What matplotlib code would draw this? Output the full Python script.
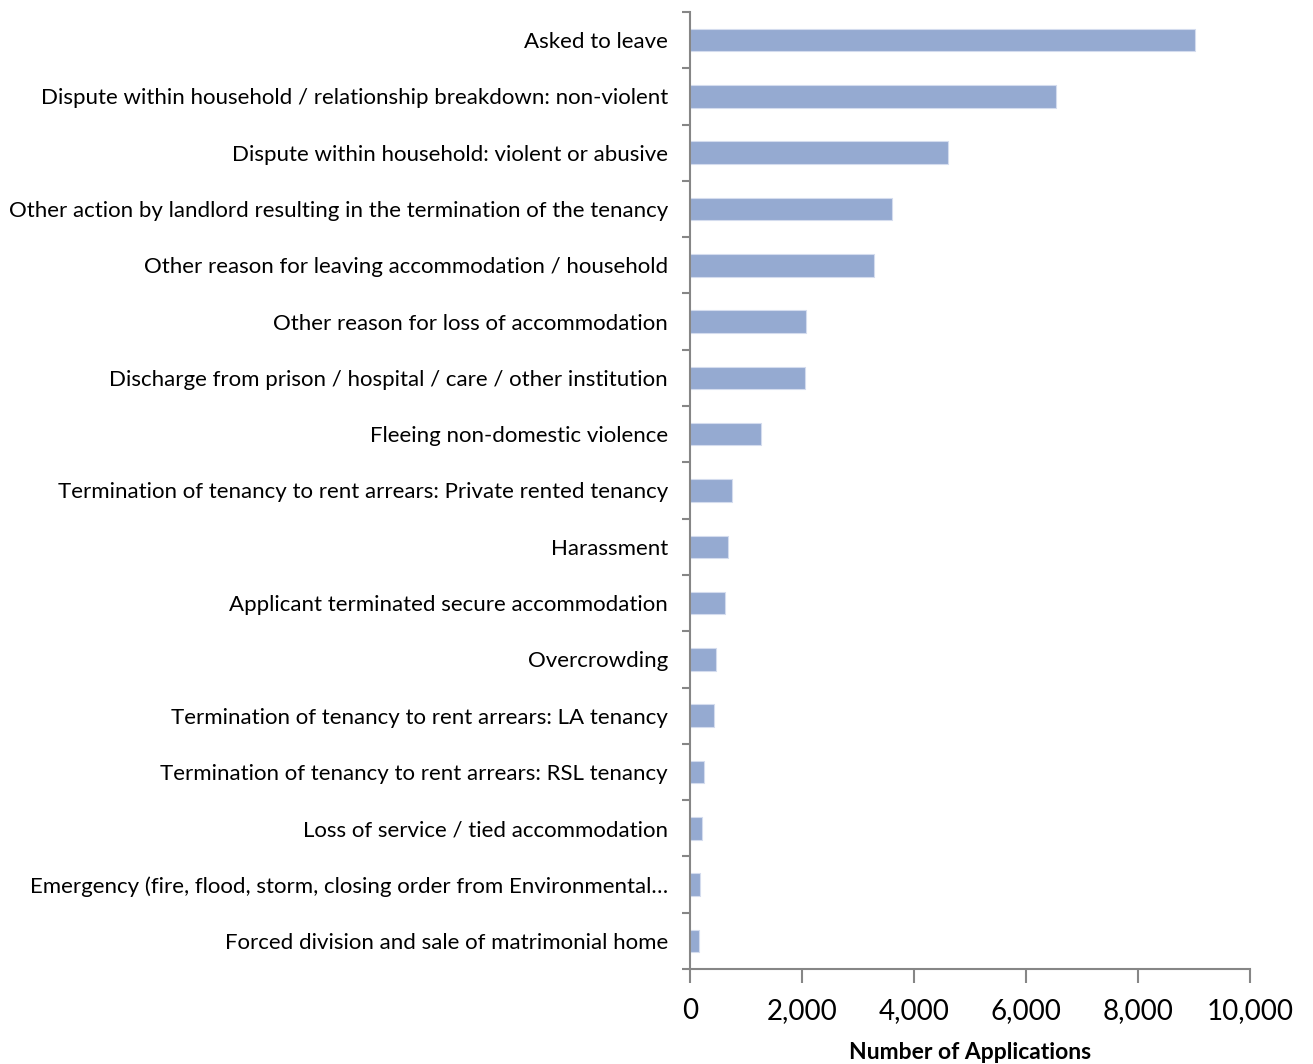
#!/usr/bin/env python3
"""Reasons for homelessness applications - horizontal bar chart."""

import matplotlib
matplotlib.use("Agg")
import matplotlib.pyplot as plt
from matplotlib.ticker import FuncFormatter

REASONS = [
    "Asked to leave",
    "Dispute within household / relationship breakdown: non-violent",
    "Dispute within household: violent or abusive",
    "Other action by landlord resulting in the termination of the tenancy",
    "Other reason for leaving accommodation / household",
    "Other reason for loss of accommodation",
    "Discharge from prison / hospital / care / other institution",
    "Fleeing non-domestic violence",
    "Termination of tenancy to rent arrears: Private rented tenancy",
    "Harassment",
    "Applicant terminated secure accommodation",
    "Overcrowding",
    "Termination of tenancy to rent arrears: LA tenancy",
    "Termination of tenancy to rent arrears: RSL tenancy",
    "Loss of service / tied accommodation",
    "Emergency (fire, flood, storm, closing order from Environmental\u2026",
    "Forced division and sale of matrimonial home",
]
APPLICATIONS = [9020, 6530, 4610, 3600, 3290, 2070, 2050, 1270,
                750, 676, 629, 463, 421, 249, 219, 184, 166]
X_TICKS = [0, 2000, 4000, 6000, 8000, 10000]

BAR_COLOR = "#95AAD1"
AXIS_COLOR = "#868686"

plt.rcParams["font.family"] = ["Lato", "DejaVu Sans"]

fig = plt.figure(figsize=(13.13, 10.64), dpi=100)
ax = fig.add_axes([690 / 1313, 1 - 969 / 1064, 560 / 1313, 957 / 1064])

n = len(REASONS)
positions = list(range(n))
ax.barh(positions, APPLICATIONS, height=0.4, color=BAR_COLOR,
        edgecolor="#D4DCEE", linewidth=0.8)
ax.set_ylim(n - 0.5, -0.5)
ax.set_xlim(0, 10000)

# category labels at centres, tick marks at category boundaries
ax.set_yticks(positions)
ax.set_yticklabels(REASONS, fontsize=16)
ax.tick_params(axis="y", which="major", length=0, pad=16)
ax.set_yticks([i - 0.5 for i in range(n + 1)], minor=True)
ax.tick_params(axis="y", which="minor", length=6, width=1.5, color=AXIS_COLOR)

ax.set_xticks(X_TICKS)
ax.xaxis.set_major_formatter(FuncFormatter(lambda v, _: f"{int(v):,}"))
ax.tick_params(axis="x", length=10, width=1.5, color=AXIS_COLOR,
               labelsize=20, pad=11)
ax.set_xlabel("Number of Applications", fontsize=16.5, fontweight="bold",
              labelpad=13)

for side in ("top", "right"):
    ax.spines[side].set_visible(False)
for side in ("left", "bottom"):
    ax.spines[side].set_color(AXIS_COLOR)
    ax.spines[side].set_linewidth(1.5)

fig.savefig("out.png", dpi=100)
plt.close(fig)
